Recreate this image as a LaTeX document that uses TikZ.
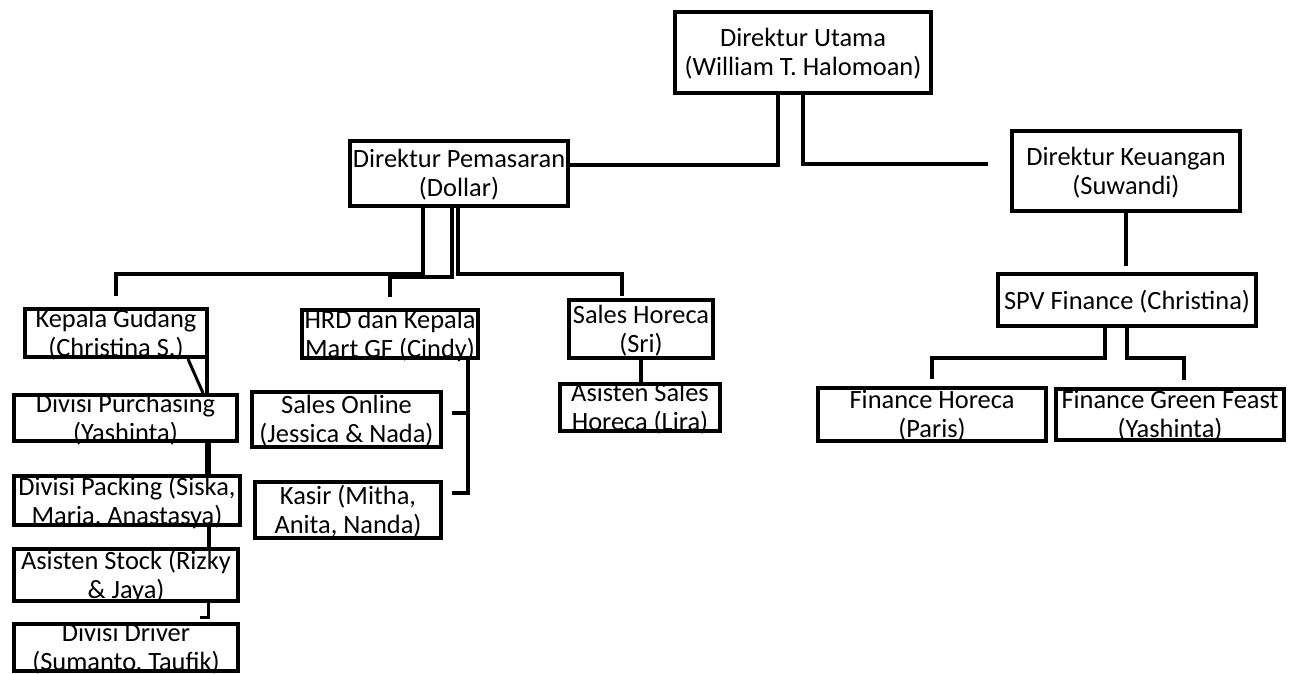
\documentclass[tikz,border=0pt]{standalone}
\usepackage{fontspec}
\setmainfont{Carlito}
\tikzset{
  box/.style={draw=black, line width=4pt, fill=white, inner sep=0pt, rectangle},
  lbl/.style={align=center, inner sep=0pt, font=\fontsize{26.4}{29}\selectfont},
  conn/.style={draw=black, line width=4pt},
}
% name, x1, y1, x2, y2 (outer edges, image px), text
\newcommand\orgbox[6]{%
  \node[box, minimum width={(#4-#2-4)*1pt}, minimum height={(#5-#3-4)*1pt}]
    (#1) at ({(#2+#4)/2},{(#3+#5)/2}) {};
  \node[lbl] (#1-t) at ([yshift=-1.5pt]#1.center) {#6};
}
\begin{document}
\begin{tikzpicture}[x=1pt,y=-1pt]
\useasboundingbox (0,0) rectangle (1294,673);

\orgbox{utama}{673}{10}{933}{95}{Direktur Utama\\(William T. Halomoan)}
\orgbox{pemasaran}{348}{139}{570}{208}{Direktur Pemasaran\\(Dollar)}
\orgbox{keuangan}{1010}{129}{1242}{213}{Direktur Keuangan\\(Suwandi)}
\orgbox{gudang}{23}{307}{209}{359}{Kepala Gudang\\(Christina S.)}
\orgbox{hrd}{300}{308}{480}{360}{HRD dan Kepala\\Mart GF (Cindy)}
\orgbox{horeca}{567}{298}{715}{360}{Sales Horeca\\(Sri)}
\orgbox{asales}{558}{382}{722}{433}{Asisten Sales\\Horeca (Lira)}
\orgbox{online}{250}{390}{443}{449}{Sales Online\\(Jessica \& Nada)}
\orgbox{kasir}{253}{480}{443}{540}{Kasir (Mitha,\\Anita, Nanda)}
\orgbox{spv}{996}{272}{1258}{328}{SPV Finance (Christina)}
\orgbox{fhoreca}{816}{386}{1048}{443}{Finance Horeca\\(Paris)}
\orgbox{fgreen}{1054}{387}{1286}{442}{Finance Green Feast\\(Yashinta)}
\orgbox{purch}{12}{393}{239}{443}{Divisi Purchasing\\(Yashinta)}
\orgbox{packing}{12}{474}{242}{527}{Divisi Packing (Siska,\\Maria, Anastasya)}
\orgbox{stock}{12}{547}{240}{603}{Asisten Stock (Rizky\\\& Jaya)}
\orgbox{driver}{12}{622}{240}{673}{Divisi Driver\\(Sumanto, Taufik)}

% top level
\draw[conn] ([xshift=-25pt]utama.south) |- ([yshift=8.5pt]pemasaran.east);
\draw[conn] (utama.south) |- ([xshift=-22pt,yshift=7pt]keuangan.west);

% marketing branch
\draw[conn] ([xshift=-36pt]pemasaran.south) |- ([yshift=33pt]gudang.north) -- ([yshift=11pt]gudang.north);
\draw[conn] ([xshift=-7pt]pemasaran.south) |- ([yshift=31pt]hrd.north) -- ([yshift=11pt]hrd.north);
\draw[conn] ([xshift=-1pt]pemasaran.south) |- ([xshift=-19pt,yshift=24pt]horeca.north) -- ([xshift=-19pt,yshift=2pt]horeca.north);
\draw[conn] (horeca.south) -- (horeca.south |- asales.north);

% warehouse column
\draw[conn] ([xshift=-2pt]gudang.south east) -- ([xshift=-32pt]purch.north east);
\draw[conn, line width=3pt] ([xshift=-21pt]gudang.south east) -- ([xshift=-36pt]purch.north east);
\draw[conn, line width=6pt] ([xshift=-31pt]purch.south east) -- ([xshift=-34pt]packing.north east);
\draw[conn] ([xshift=-33pt]packing.south east) -- ([xshift=-31pt]stock.north east);
\coordinate (hook) at (200,617);
\draw[conn, line width=3pt] ([xshift=-32pt]stock.south east) |- (hook);

% HRD
\draw[conn] ([xshift=-12pt]hrd.south east) |- ([xshift=9pt,yshift=17pt]kasir.east);
\draw[conn] ([xshift=9pt,yshift=6.5pt]online.east) -| ([xshift=-12pt]hrd.south east);

% finance
\coordinate (spvtop) at ([yshift=6pt]spv.north);
\draw[conn] (keuangan.south) -- (keuangan.south |- spvtop);
\draw[conn] ([xshift=-22pt]spv.south) |- ([yshift=28pt]fhoreca.north) -- ([yshift=7pt]fhoreca.north);
\draw[conn] (spv.south) |- ([xshift=14pt,yshift=29pt]fgreen.north) -- ([xshift=14pt,yshift=7pt]fgreen.north);
\end{tikzpicture}
\end{document}
